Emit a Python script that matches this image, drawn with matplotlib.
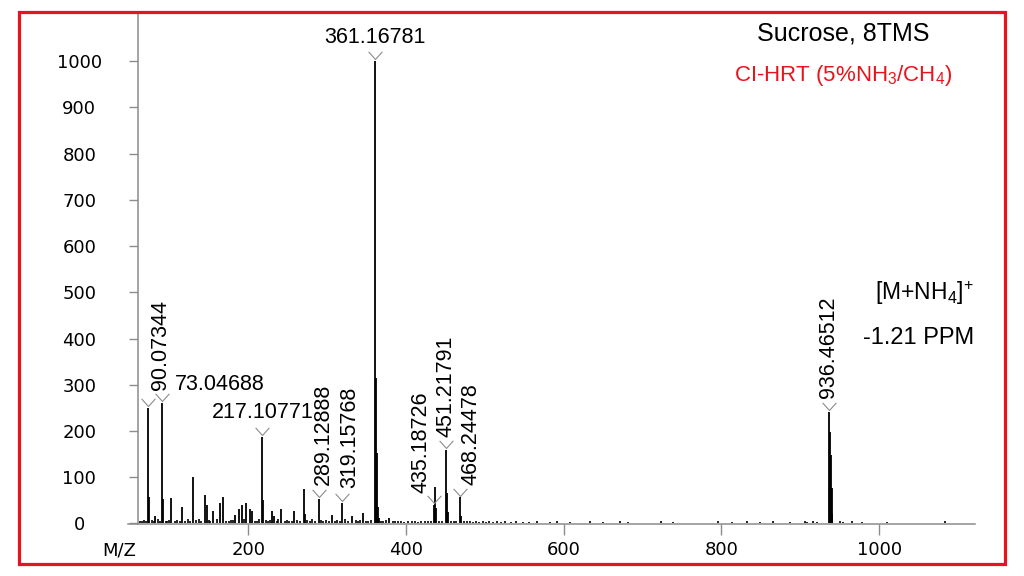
import matplotlib
matplotlib.use('Agg')
import matplotlib.pyplot as plt
from matplotlib.path import Path
from matplotlib.patches import Rectangle

# labelled peaks (m/z, intensity, label)
lab_mz = [73.04688, 90.07344, 217.10771, 289.12888, 319.15768, 361.16781,
          435.18726, 451.21791, 468.24478, 936.46512]
lab_int = [249, 261, 187, 52, 44, 1000, 40, 159, 56, 241]
lab_txt = ['73.04688', '90.07344', '217.10771', '289.12888', '319.15768',
           '361.16781', '435.18726', '451.21791', '468.24478', '936.46512']

# other visible peaks
sec_mz = [74.5, 81.5, 91.3, 102.5, 116.5, 129.5, 145.5, 147, 155.5, 164.5,
          167.5, 183.5, 188, 191.5, 197.5, 202.5, 204.5, 218.5, 230, 232,
          241.5, 257.5, 270, 271.5, 305.5, 332, 345, 362.3, 363.3, 364.3,
          365.5, 379, 437.2, 438.5, 452.5, 453.5, 469.5, 937.5, 938.6, 939.7,
          940.8]
sec_int = [57, 15, 53, 55, 35, 101, 62, 40, 27, 44,
           56, 17, 31, 40, 45, 31, 27, 51, 27, 15,
           31, 27, 75, 20, 18, 15, 22, 314, 152, 36,
           12, 12, 78, 33, 65, 25, 15, 198, 148, 76,
           20]

# baseline clutter
noise_mz = [62, 65, 68, 70, 78, 80, 86, 88, 95, 97,
            99, 107, 110, 113, 120, 123, 126, 134, 137, 140,
            150, 152, 160, 172, 175, 178, 180, 194, 208, 211,
            214, 222, 225, 228, 236, 238, 246, 249, 252, 255,
            262, 265, 275, 278, 281, 284, 292, 295, 299, 302,
            310, 313, 316, 323, 326, 336, 339, 342, 349, 352,
            356, 368, 371, 374, 383, 386, 390, 394, 398, 403,
            407, 411, 415, 419, 424, 428, 432, 442, 446, 457,
            461, 464, 473, 477,
            481, 485, 489, 493, 497, 501, 505, 510, 515, 520,
            526, 533, 540, 548, 556, 566, 583, 591, 608, 633,
            650, 671, 682, 724, 739, 796, 813, 832, 849, 866,
            887, 906, 908, 916, 921, 950, 954, 965, 978, 1010,
            1083]
noise_int = [6, 4, 8, 5, 7, 4, 9, 5, 6, 4,
             7, 5, 8, 4, 6, 9, 5, 7, 10, 6,
             8, 5, 9, 6, 4, 7, 8, 10, 6, 5,
             9, 7, 5, 8, 6, 10, 5, 7, 4, 6,
             8, 5, 7, 4, 9, 6, 8, 5, 7, 4,
             6, 8, 5, 9, 6, 7, 4, 8, 6, 5,
             7, 6, 4, 8, 5, 6, 4, 5, 3, 5,
             4, 6, 3, 5, 4, 6, 5, 4, 6, 5,
             4, 5, 4, 6,
             4, 3, 5, 3, 4, 3, 4, 3, 5, 3,
             4, 3, 4, 3, 3, 4, 3, 4, 3, 4,
             3, 4, 3, 4, 3, 4, 3, 4, 3, 4,
             3, 4, 3, 4, 3, 4, 3, 4, 3, 3,
             4]

x_ticks = [200, 400, 600, 800, 1000]
y_ticks = list(range(0, 1001, 100))

# label placement: offset in pixels from peak top (dx, dy up), rotation, ha, va
lab_pos = [(27, 24, 0, 'left', 'center'),
           (-1, 13, 90, 'center', 'bottom'),
           (1, 24, 0, 'center', 'center'),
           (5, 14, 90, 'center', 'bottom'),
           (7, 15, 90, 'center', 'bottom'),
           (0, 24, 0, 'center', 'center'),
           (-13, 12, 90, 'center', 'bottom'),
           (0, 13, 90, 'center', 'bottom'),
           (11, 12, 90, 'center', 'bottom'),
           (-1, 14, 90, 'center', 'bottom')]

plt.rcParams['font.family'] = ['DejaVu Sans']
plt.rcParams['mathtext.fontset'] = 'custom'
plt.rcParams['mathtext.rm'] = 'Liberation Sans'
plt.rcParams['mathtext.it'] = 'Liberation Sans:italic'
plt.rcParams['mathtext.bf'] = 'Liberation Sans:bold'

W, H = 1024, 576
GRAY = '#8c8c8c'
RED = '#e8141c'
fig = plt.figure(figsize=(W / 100, H / 100), dpi=100)
ax = fig.add_axes([137.7 / W, 1 - 524 / H, (975 - 137.7) / W, (524 - 12) / H])
ax.set_xlim(59.7, 1121.6)
ax.set_ylim(-1.5, 1106.7)

ax.vlines(noise_mz, 0, noise_int, color='black', lw=1.2)
ax.vlines(sec_mz, 0, sec_int, color='black', lw=1.3)
ax.vlines(lab_mz, 0, lab_int, color='black', lw=1.3)

chev = Path([(-0.9, 1), (0, 0), (0.9, 1)], [Path.MOVETO, Path.LINETO, Path.LINETO])
ax.plot(lab_mz, [v + 4 for v in lab_int], linestyle='none', marker=chev,
        markersize=11, markerfacecolor='none', markeredgecolor=GRAY,
        markeredgewidth=0.8)

for mz, inten, txt, pos in zip(lab_mz, lab_int, lab_txt, lab_pos):
    dx, dy, rot, ha, va = pos
    ax.annotate(txt, (mz, inten), xytext=(dx * 0.72, dy * 0.72),
                textcoords='offset points', rotation=rot, ha=ha, va=va,
                fontsize=15.5, family='Liberation Sans', color='black')

for s in ['top', 'right']:
    ax.spines[s].set_visible(False)
ax.spines['left'].set_color(GRAY)
ax.spines['bottom'].set_color(GRAY)
ax.spines['left'].set_linewidth(1.1)
ax.spines['bottom'].set_linewidth(1.1)
ax.plot([47.4, 59.7], [-1.5, -1.5], color=GRAY, lw=1.1, clip_on=False)

ax.set_xticks(x_ticks)
ax.set_yticks(y_ticks)
ax.tick_params(axis='x', length=8, width=1, color=GRAY, pad=4.5, labelsize=13)
ax.tick_params(axis='y', length=6.5, width=1, color=GRAY, pad=35.6, labelsize=13)
for lbl in ax.get_yticklabels():
    lbl.set_horizontalalignment('center')

fig.text(119.5 / W, 1 - 550.5 / H, 'M/Z', ha='center', va='center', fontsize=13)

fig.text(843.5 / W, 1 - 34 / H, 'Sucrose, 8TMS', ha='center', va='center',
         fontsize=18, family='Liberation Sans')
fig.text(843.5 / W, 1 - 75 / H, r'CI-HRT (5%NH$_3$/CH$_4$)', ha='center',
         va='center', fontsize=16, family='Liberation Sans', color=RED)
fig.text(924 / W, 1 - 293 / H, r'[M+NH$_4$]$^{\mathregular{+}}$', ha='center', va='center',
         fontsize=16.5, family='Liberation Sans')
fig.text(919 / W, 1 - 338 / H, '-1.21 PPM', ha='center', va='center',
         fontsize=17, family='Liberation Sans')

fig.patches.append(Rectangle((19 / W, 1 - 564 / H), (1005 - 19) / W, (564 - 11.7) / H,
                             transform=fig.transFigure, fill=False,
                             edgecolor=RED, lw=2.3))

fig.savefig('out.png', dpi=100)
